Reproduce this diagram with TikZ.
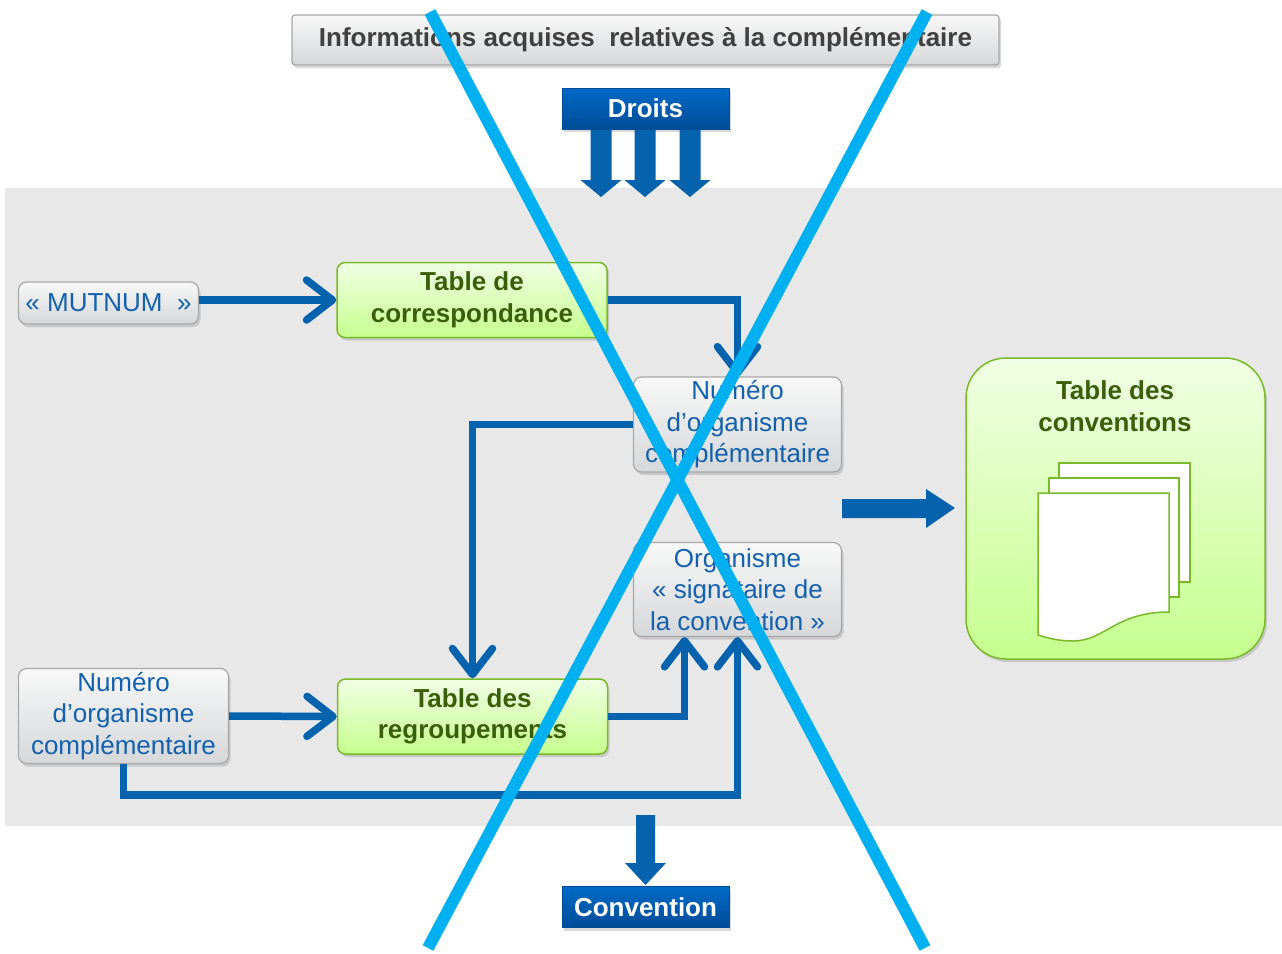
\documentclass[tikz,border=0pt]{standalone}
\usepackage{fontspec}
\setmainfont{Liberation Sans}
\usepackage{tikz}
\usetikzlibrary{arrows.meta}
\usetikzlibrary{shadows}

\definecolor{linkblue}{HTML}{0563AE}
\definecolor{crosscyan}{HTML}{00B0F0}
\definecolor{bggray}{HTML}{E8E8E8}
\definecolor{graytop}{HTML}{F8F8F8}
\definecolor{graybot}{HTML}{D5D7D9}
\definecolor{grayline}{HTML}{A8A8A8}
\definecolor{titlegray}{HTML}{404040}
\definecolor{textblue}{HTML}{1361AE}
\definecolor{greentop}{HTML}{F0FFE4}
\definecolor{greenbot}{HTML}{C6FF8E}
\definecolor{greenline}{HTML}{7AB929}
\definecolor{greentext}{HTML}{3B5E0A}
\definecolor{bluetop}{HTML}{006AC6}
\definecolor{bluebot}{HTML}{004C98}

\tikzset{
  txt/.style={font=\fontsize{26}{31.5}\selectfont},
  graybox/.style={rectangle, rounded corners=8pt, draw=grayline, line width=1.2pt,
    top color=graytop, bottom color=graybot, text=textblue, align=center, inner sep=0pt,
    txt, drop shadow={opacity=0.3, shadow xshift=2pt, shadow yshift=-3pt}},
  greenbox/.style={rectangle, rounded corners=8pt, draw=greenline, line width=1.5pt,
    top color=greentop, bottom color=greenbot, text=greentext, align=center, inner sep=0pt,
    font=\fontsize{26}{31.5}\selectfont\bfseries,
    drop shadow={opacity=0.3, shadow xshift=2pt, shadow yshift=-3pt}},
  bluebox/.style={rectangle, draw=bluebot, line width=0.8pt, top color=bluetop,
    bottom color=bluebot, text=white, inner sep=0pt, font=\fontsize{26}{31.5}\selectfont\bfseries,
    drop shadow={opacity=0.3, shadow xshift=2pt, shadow yshift=-3pt}},
  link/.style={draw=linkblue, line width=7.5pt, -{Straight Barb[length=26pt,width=40pt,round]}},
  blockarrow/.style={fill=linkblue},
  page/.style={fill=white, draw=greenline, line width=1.5pt},
  cross/.style={draw=crosscyan, line width=12pt}
}

\begin{document}
\begin{tikzpicture}[x=1pt, y=-1pt]
\useasboundingbox (0,0) rectangle (1282,953);

% fond gris
\fill [bggray] (5,188) rectangle (1282,826);

% titre et entree
\node [graybox, text=titlegray, font=\fontsize{26}{31.5}\selectfont\bfseries, rounded corners=3pt,
  minimum width=707pt, minimum height=50pt] (info) at (645.5,40) {Informations acquises\ \ relatives à la complémentaire};
\node [bluebox, minimum width=167pt, minimum height=41pt] (droits) at (645.5,108.5) {Droits};
\foreach \x in {601,645,690}
  \fill [blockarrow] (\x-10.5,130) -- (\x+10.5,130) -- (\x+10.5,180) -- (\x+20.5,180)
    -- (\x,197) -- (\x-20.5,180) -- (\x-10.5,180) -- cycle;

% boites
\node [graybox, minimum width=180pt, minimum height=42pt] (mutnum) at (108.5,303) {« MUTNUM\ \ »};
\node [greenbox, minimum width=270pt, minimum height=75pt] (tdc) at (472,300) {Table de\\correspondance};
\node [graybox, minimum width=208pt, minimum height=95pt] (numA) at (737.5,424.5) {Numéro\\d’organisme\\complémentaire};
\node [graybox, minimum width=208pt, minimum height=94pt] (orga) at (737.5,589.5) {Organisme\\« signataire de\\la convention »};
\node [graybox, minimum width=210pt, minimum height=95pt] (numB) at (123.5,716) {Numéro\\d’organisme\\complémentaire};
\node [greenbox, minimum width=270pt, minimum height=75pt] (tdr) at (472.5,716.5) {Table des\\regroupements};

% table des conventions
\node [greenbox, rounded corners=40pt, minimum width=299pt, minimum height=301pt] (tconv) at (1115.5,508.5) {};
\node [txt, font=\fontsize{26}{31.5}\selectfont\bfseries, text=greentext, align=center] (tconvtitle) at (1115,406) {Table des\\conventions};
\draw [page] (1059,463) rectangle (1190,582);
\draw [page] (1049,478) rectangle (1179,597);
\draw [page] (1038,493) -- (1169,493) -- (1169,612) .. controls (1115,612) and (1105,641) .. (1073,641)
  .. controls (1058,641) and (1048,638) .. (1038,635) -- cycle;

% liens
\draw [link] (mutnum.east |- tdc) -- (tdc.west);
\draw [link] (tdc.east) -| (numA.north);
\draw [link] (numA.west) -| (tdr.north);
\draw [link] (numB.east) -- (tdr.west);
\draw [link] (tdr.east) -| ([xshift=-53pt]orga.south);
\draw [link] (numB.south) -- ++(0,31) -| (orga.south);

% fleches pleines
\fill [blockarrow] (842,499) -- (926,499) -- (926,489) -- (955,508) -- (926,528) -- (926,518) -- (842,518) -- cycle;
\node [bluebox, minimum width=167pt, minimum height=41pt] (conv) at (645.5,907) {Convention};
\fill [blockarrow] (636,815) -- (655,815) -- (655,863) -- (666,863) -- (645.5,885) -- (625,863) -- (636,863) -- cycle;

% croix
\coordinate (xa) at (430,12);
\coordinate (xb) at (925,948);
\coordinate (xc) at (927,12);
\coordinate (xd) at (428,948);
\draw [cross] (xa) -- (xb);
\draw [cross] (xc) -- (xd);
\end{tikzpicture}
\end{document}
